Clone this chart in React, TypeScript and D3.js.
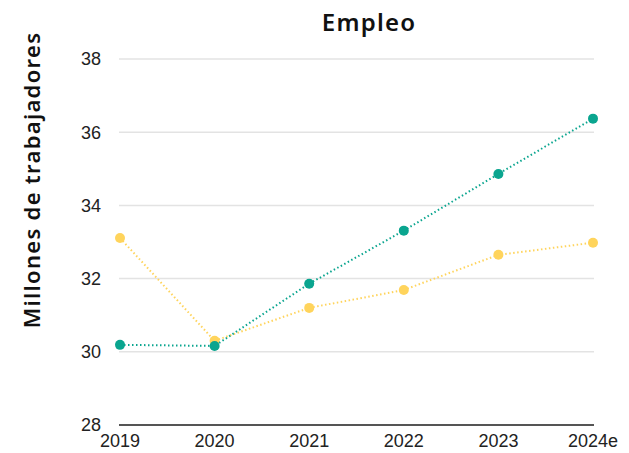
import React, { useEffect, useRef } from 'react';
import * as d3 from 'd3';

const years = ['2019', '2020', '2021', '2022', '2023', '2024e'];
const tealValues = [30.19, 30.16, 31.86, 33.31, 34.86, 36.37];
const yellowValues = [33.11, 30.3, 31.2, 31.69, 32.65, 32.98];
const yTicks = [28, 30, 32, 34, 36, 38];

const App: React.FC = () => {
  const svgRef = useRef<SVGSVGElement | null>(null);

  useEffect(() => {
    const width = 629;
    const height = 453;
    const left = 120;
    const right = 593;

    const svg = d3.select(svgRef.current)
      .attr('width', width)
      .attr('height', height);

    svg.selectAll('*').remove();

    const xScale = d3.scalePoint<string>()
      .domain(years)
      .range([left, right]);

    const yScale = d3.scaleLinear()
      .domain([28, 38])
      .range([425, 59]);

    // gridlines
    svg.append('g')
      .selectAll('line')
      .data(yTicks)
      .join('line')
      .attr('x1', left - 1)
      .attr('x2', right + 1)
      .attr('y1', d => yScale(d))
      .attr('y2', d => yScale(d))
      .attr('stroke', d => (d === 28 ? '#555' : '#e3e3e3'))
      .attr('stroke-width', d => (d === 28 ? 2 : 1.5));

    // y tick labels
    svg.append('g')
      .selectAll('text')
      .data(yTicks)
      .join('text')
      .attr('x', 101)
      .attr('y', d => yScale(d))
      .attr('dy', '0.35em')
      .attr('text-anchor', 'end')
      .attr('font-family', 'Liberation Sans, Arial, sans-serif')
      .attr('font-size', 18)
      .attr('fill', '#222')
      .text(d => d);

    // x tick labels
    svg.append('g')
      .selectAll('text')
      .data(years)
      .join('text')
      .attr('x', d => xScale(d) as number)
      .attr('y', 447)
      .attr('text-anchor', 'middle')
      .attr('font-family', 'Liberation Sans, Arial, sans-serif')
      .attr('font-size', 18)
      .attr('fill', '#222')
      .text(d => d);

    const series = [
      { values: yellowValues, color: '#ffd45c' },
      { values: tealValues, color: '#0aa58f' },
    ];

    const line = d3.line<number>()
      .x((_, i) => xScale(years[i]) as number)
      .y(d => yScale(d));

    series.forEach(s => {
      svg.append('path')
        .datum(s.values)
        .attr('fill', 'none')
        .attr('stroke', s.color)
        .attr('stroke-width', 2)
        .attr('stroke-dasharray', '1.5,2.5')
        .attr('d', line);

      svg.append('g')
        .selectAll('circle')
        .data(s.values)
        .join('circle')
        .attr('cx', (_, i) => xScale(years[i]) as number)
        .attr('cy', d => yScale(d))
        .attr('r', 5)
        .attr('fill', s.color);
    });

    // title
    svg.append('text')
      .attr('x', 369)
      .attr('y', 31)
      .attr('text-anchor', 'middle')
      .attr('font-family', 'Noto Sans, sans-serif')
      .attr('font-weight', 600)
      .attr('font-size', 24)
      .attr('letter-spacing', 1.2)
      .attr('fill', '#111')
      .text('Empleo');

    // y axis title
    svg.append('text')
      .attr('transform', 'translate(40,180) rotate(-90)')
      .attr('text-anchor', 'middle')
      .attr('font-family', 'Noto Sans, sans-serif')
      .attr('font-weight', 600)
      .attr('font-size', 22)
      .attr('letter-spacing', 1.3)
      .attr('fill', '#111')
      .text('Millones de trabajadores');
  }, []);

  return (
    <svg
      ref={svgRef}
      style={{ position: 'absolute', left: 0, top: 0, background: '#fff' }}
    ></svg>
  );
};

export default App;
